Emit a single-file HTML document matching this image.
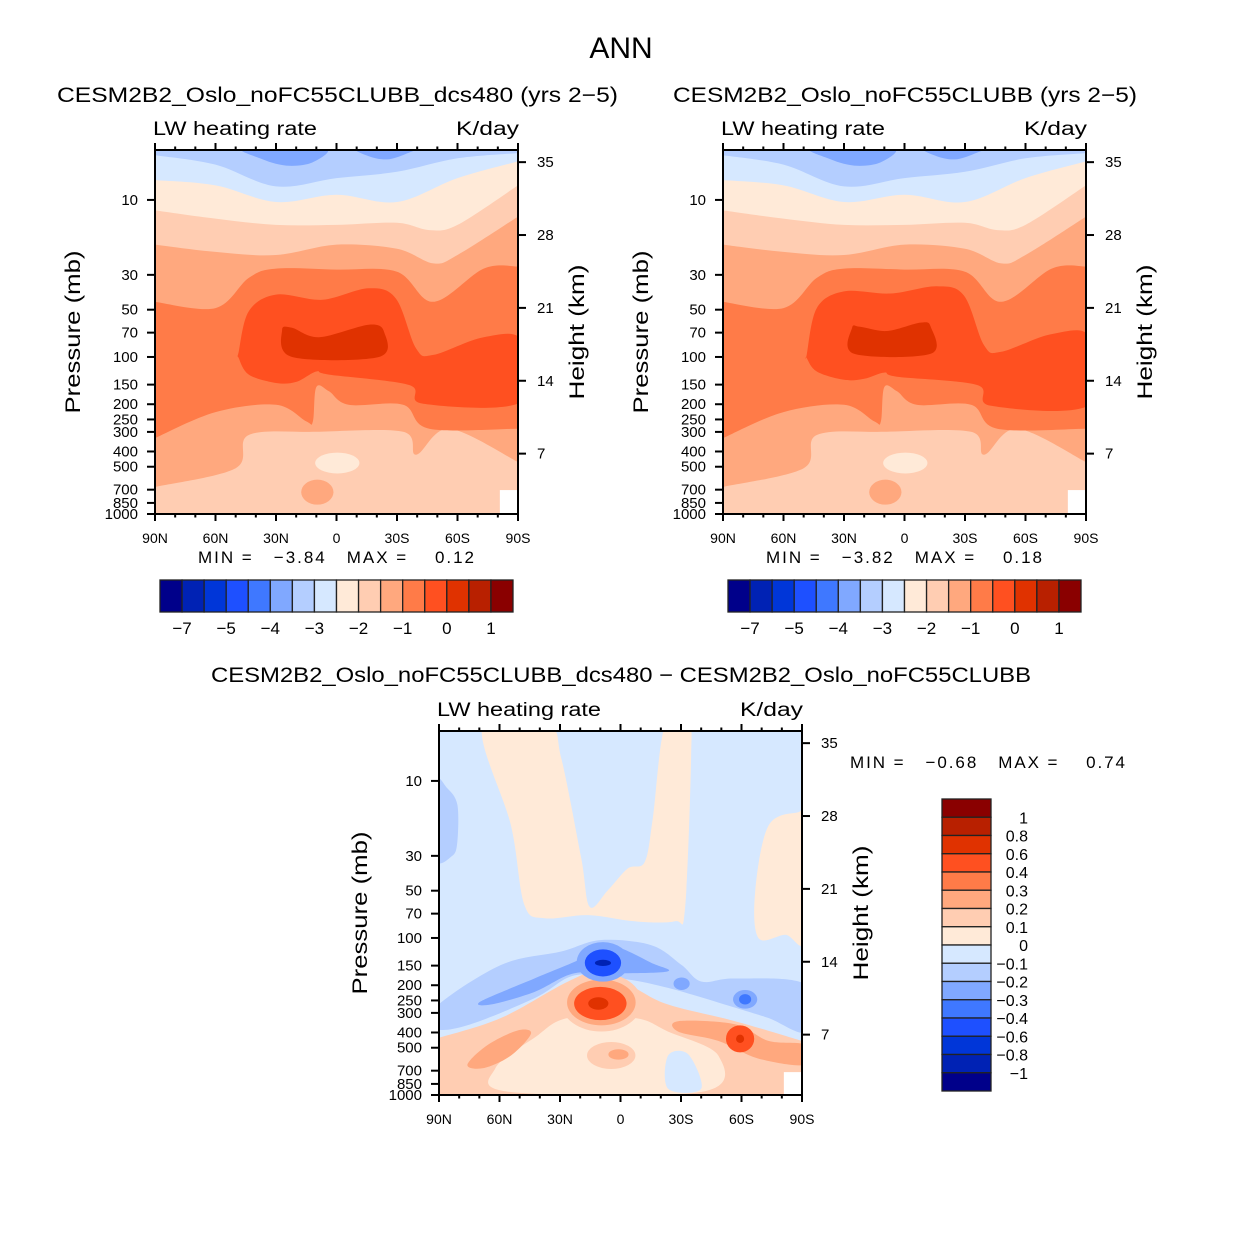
<!DOCTYPE html>
<html><head><meta charset="utf-8">
<style>
html,body{margin:0;padding:0;background:#fff;}
svg{display:block;font-family:"Liberation Sans",sans-serif;}
</style></head>
<body>
<svg id="fig" width="1242" height="1244" viewBox="0 0 1242 1244" xmlns="http://www.w3.org/2000/svg">
<rect width="1242" height="1244" fill="#fff"/>
<text x="621" y="58" font-size="30" text-anchor="middle">ANN</text>
<text x="57" y="102" font-size="21" textLength="561" lengthAdjust="spacingAndGlyphs">CESM2B2_Oslo_noFC55CLUBB_dcs480 (yrs 2−5)</text>
<text x="673" y="102" font-size="21" textLength="464" lengthAdjust="spacingAndGlyphs">CESM2B2_Oslo_noFC55CLUBB (yrs 2−5)</text>
<text x="211" y="682" font-size="21" textLength="820" lengthAdjust="spacingAndGlyphs">CESM2B2_Oslo_noFC55CLUBB_dcs480 − CESM2B2_Oslo_noFC55CLUBB</text>
<text x="198" y="563" font-size="17" xml:space="preserve" textLength="276" lengthAdjust="spacing">MIN =   −3.84   MAX =    0.12</text>
<text x="766" y="563" font-size="17" xml:space="preserve" textLength="276" lengthAdjust="spacing">MIN =   −3.82   MAX =    0.18</text>
<text x="850" y="768" font-size="17" xml:space="preserve" textLength="275" lengthAdjust="spacing">MIN =   −0.68   MAX =    0.74</text>
<g id="layer"></g>
</svg>
<script>
// ---------- colour levels ----------
const palette = ["#00008a","#0022b4","#0036d8","#1e50ff","#3f78ff","#80a8ff","#b4ceff","#d6e8ff","#ffead8","#ffcdb2","#ffa87e","#ff7b48","#ff5020","#e03200","#b82000","#8a0000"];
const cbLabelsTop = ["−7","−5","−4","−3","−2","−1","0","1"];
const cbLabelIdxTop = [1,3,5,7,9,11,13,15];
const cbLabelsDiff = ["1","0.8","0.6","0.4","0.3","0.2","0.1","0","−0.1","−0.2","−0.3","−0.4","−0.6","−0.8","−1"];

// ---------- axes data ----------
const latTicks = [90,60,30,0,-30,-60,-90];
const latLabels = ["90N","60N","30N","0","30S","60S","90S"];
const presTicks = [10,30,50,70,100,150,200,250,300,400,500,700,850,1000];
const kmTicks = [7,14,21,28,35];

// ---------- mean-state contour boundaries [lat, log-p height km] ----------
const bSalmonLow = [[90,2.6],[50,4.4],[43.5,7.6],[10,7.9],[-33,7.9],[-39.5,5.7],[-56,8.2],[-90,5.0]];
const bOrangeLow = [[90,7.3],[60,9.8],[30,10.5],[15,8.9],[11.7,8.9],[10,12.2],[3.7,11.8],[-6,10.5],[-33,10.5],[-46,8.2],[-90,8.2]];
const bSalmonUp = [[90,20.4],[60,19.8],[43.5,22.7],[30,23.6],[0,23.5],[-30,23.3],[-48,20.4],[-73,23.6],[-90,23.8]];
const bPeachUp = [[90,25.9],[60,25.2],[30,24.9],[0,25.9],[-30,25.5],[-48,24.1],[-60,24.9],[-90,28.6]];
const bCream = [[90,29.2],[60,28.4],[30,27.8],[0,27.8],[-30,28.0],[-46,27.3],[-60,27.8],[-90,31.6]];
const bVLBlue = [[90,32.1],[60,31.6],[30,30.0],[0,30.7],[-30,30.0],[-60,32.3],[-90,33.9]];
const bLBlue = [[90,34.5],[60,33.6],[30,31.5],[0,32.3],[-30,32.9],[-60,34.2],[-90,34.7]];
const blobBlueA = [[46,35.2],[38,34.2],[25,33.5],[12,33.8],[6,35.2]];
const blobBlueB = [[-10,35.2],[-16,34.4],[-25,34.1],[-34,34.6],[-38,35.2]];
const coreRed = [[48.5,15.6],[43.5,19.5],[30,21.1],[7,20.6],[-16,21.7],[-29.5,20.7],[-39.5,15.9],[-48,15.3],[-73,17.0],[-92,16.7],[-92,10.8],[-43,10.6],[-36,12.4],[3.7,13.4],[10,13.7],[20,12.7],[30,12.6],[43.5,13.4],[48.5,15.0]];
const coreDark = [[27,17.7],[22,15.1],[-21,15.1],[-23.6,17.5],[-16,18.2],[8.7,17.0],[22,17.9]];
const blobCream = [-0.4,4.9,11,1.0];
const blobSalmon = [9.5,2.1,8,1.2];
const coreRed2 = [[48.5,15.3],[43.5,19.8],[30,21.4],[7,21.2],[-16,21.9],[-29.5,21.0],[-39.5,16.2],[-48,15.6],[-73,17.3],[-92,17.0],[-92,10.5],[-43,10.4],[-36,12.4],[3.7,13.2],[10,13.6],[20,13.0],[30,12.9],[43.5,13.7],[48.5,15.0]];
const coreDark2 = [[26,17.9],[25,15.4],[-13,15.4],[-13,18.0],[-8,18.4],[8.7,17.6],[22,18.0]];

// ---------- difference field shapes ----------
const dTongueA = [[68.4,35.5],[36,35.5],[29.4,32.4],[19.5,22.8],[15.3,18.1],[6.2,19.7],[-3.7,21.8],[-12,22.4],[-16,26.6],[-22,35.5],[-33.6,35.5],[-35,32.4],[-32,17.9],[-27,16.7],[-7,16.7],[16,17.3],[37.7,17.0],[47.7,18.3],[54.3,25.9]];
const dTongueB = [[-66.8,19.6],[-73.4,25.9],[-88.3,27.2],[-92,27],[-92,15.1],[-81.7,15.4],[-68.4,15.1]];
const dBlueLeft = [[92,30.1],[85.9,29.5],[80.9,27.9],[80.9,24.4],[83.4,23.0],[92,22.8]];
const dBand = [[92,8.4],[59.3,12.5],[29.4,13.8],[9.5,14.9],[-15.3,14.4],[-30.3,12.5],[-40.2,10.9],[-56.8,11.2],[-92,10.6],[-92,6.1],[-73.4,7.4],[-56.8,8.4],[-23.6,10.3],[-0.4,11.2],[22.8,11.5],[42.7,9.3],[75.9,6.7],[92,6.4]];
const dBandMid = [[69.3,9.0],[42.7,11.2],[19.5,13.1],[9.5,14.4],[-0.4,14.1],[-15.3,12.7],[-23.6,11.9],[-0.4,11.7],[22.8,11.7],[42.7,9.9],[64.3,8.7]];
const dPeachTop = [[90,5.5],[59.3,7.4],[26.1,10.9],[9.5,11.9],[-7,10.3],[-23.6,8.7],[-56.8,7.1],[-90,5.2]];
const dCream = [[62,2.6],[42.7,5.5],[26.1,7.4],[-7,7.4],[-23.6,6.1],[-48.5,3.8],[-40.2,0.3],[55,0.3]];
const dBlobs = [ // lat, km, rxLat, ryKm, colour index
  [9.5,8.9,20,2.8,9],[9.5,8.9,17,2.2,10],[10,8.8,13,1.6,12],[11,8.8,5,0.6,13],
  [8.7,12.8,13,1.9,5],[8.7,12.7,9,1.3,3],[8.7,12.7,4,0.3,1],
  [-30.3,10.7,4,0.6,5],[-61.8,9.2,6,0.9,5],[-61.8,9.2,3,0.5,4],
  [4.6,3.8,12,1.3,9],[1,3.9,5,0.5,10],
  [-59.3,5.4,7,1.3,12],[-59.3,5.4,2,0.4,13]
];
const dSalmonRight = [[-28.6,7.1],[-56.8,6.8],[-73.4,5.2],[-92,4.8],[-92,2.9],[-68.4,3.5],[-48.5,5.2],[-28.6,6.1]];
const dSalmonLeft = [[75.9,2.9],[66,4.8],[51,6.2],[44.4,5.9],[54.3,3.8],[67.6,2.6]];
const dBluePatch = [[-23.6,3.8],[-33.6,3.9],[-40,0.6],[-23.6,0.6]];

// ---------- helpers ----------
const NS = "http://www.w3.org/2000/svg";
const root = document.getElementById('layer');
function el(tag, attrs, parent){ const e=document.createElementNS(NS,tag); for(const k in attrs) e.setAttribute(k,attrs[k]); (parent||root).appendChild(e); return e; }
function makeAxes(ox, oy){
  const W=363, H=364;
  return { ox, oy, W, H,
    x: lat => ox + (90-lat)/180*W,
    y: km => oy + H - km*10.4,
    yp: p => oy + H - 68.2*Math.log(1000/p),
    yk: km => oy + H + 12.5 - km*10.41 };
}
function smoothOpen(pts){
  let d='';
  for(let i=0;i<pts.length-1;i++){
    const p0=pts[i-1]||pts[i], p1=pts[i], p2=pts[i+1], p3=pts[i+2]||pts[i+1];
    const c1=[p1[0]+(p2[0]-p0[0])/6, p1[1]+(p2[1]-p0[1])/6];
    const c2=[p2[0]-(p3[0]-p1[0])/6, p2[1]-(p3[1]-p1[1])/6];
    d+=` C${c1[0].toFixed(1)},${c1[1].toFixed(1)} ${c2[0].toFixed(1)},${c2[1].toFixed(1)} ${p2[0].toFixed(1)},${p2[1].toFixed(1)}`;
  }
  return d;
}
function smoothClosed(pts){
  const n=pts.length; let d=`M${pts[0][0].toFixed(1)},${pts[0][1].toFixed(1)}`;
  for(let i=0;i<n;i++){
    const p0=pts[(i-1+n)%n], p1=pts[i], p2=pts[(i+1)%n], p3=pts[(i+2)%n];
    const c1=[p1[0]+(p2[0]-p0[0])/6, p1[1]+(p2[1]-p0[1])/6];
    const c2=[p2[0]-(p3[0]-p1[0])/6, p2[1]-(p3[1]-p1[1])/6];
    d+=` C${c1[0].toFixed(1)},${c1[1].toFixed(1)} ${c2[0].toFixed(1)},${c2[1].toFixed(1)} ${p2[0].toFixed(1)},${p2[1].toFixed(1)}`;
  }
  return d+'Z';
}
function toPx(ax, arr){ return arr.map(p=>[ax.x(p[0]), ax.y(p[1])]); }
function fillAbove(g, ax, arr, color, name){
  const pts=toPx(ax,arr);
  const d=`M${ax.ox-2},${ax.oy-2} L${ax.ox-2},${pts[0][1]} L${pts[0][0]},${pts[0][1]}`+smoothOpen(pts)+` L${ax.ox+ax.W+2},${pts[pts.length-1][1]} L${ax.ox+ax.W+2},${ax.oy-2}Z`;
  const p=el('path',{d, fill:color},g);
  
  
}
function fillBelow(g, ax, arr, color, name){
  const pts=toPx(ax,arr); const b=ax.oy+ax.H+2;
  const d=`M${ax.ox-2},${b} L${ax.ox-2},${pts[0][1]} L${pts[0][0]},${pts[0][1]}`+smoothOpen(pts)+` L${ax.ox+ax.W+2},${pts[pts.length-1][1]} L${ax.ox+ax.W+2},${b}Z`;
  const p=el('path',{d, fill:color},g);
  
  
}
function blob(g, ax, arr, color, name){
  const p=el('path',{d:smoothClosed(toPx(ax,arr)), fill:color},g);
  
  
}
function ell(g, ax, b, color, name){
  const cx=ax.x(b[0]), cy=ax.y(b[1]);
  const e=el('ellipse',{cx, cy, rx:b[2]/180*ax.W, ry:b[3]*10.4, fill:color},g);
  
  
}
function frame(ax, idx, ytitleX){
  const g=el('g',{});
  
  
  el('rect',{x:ax.ox,y:ax.oy,width:ax.W,height:ax.H,fill:'none',stroke:'#000','stroke-width':2},g);
  for(let lat=90; lat>=-90; lat-=10){
    const x=ax.x(lat), major=(lat%30===0), L=major?7:3.5;
    el('line',{x1:x,y1:ax.oy,x2:x,y2:ax.oy-L,stroke:'#000','stroke-width':2},g);
    el('line',{x1:x,y1:ax.oy+ax.H,x2:x,y2:ax.oy+ax.H+L,stroke:'#000','stroke-width':2},g);
  }
  latTicks.forEach((lat,i)=>{
    const t=el('text',{x:ax.x(lat), y:ax.oy+ax.H+29, 'font-size':14,'text-anchor':'middle'},g);
    t.textContent=latLabels[i];
    
    
  });
  presTicks.forEach(p=>{
    const y=ax.yp(p);
    el('line',{x1:ax.ox,y1:y,x2:ax.ox-8,y2:y,stroke:'#000','stroke-width':2},g);
    const t=el('text',{x:ax.ox-17, y:y+5, 'font-size':15,'text-anchor':'end'},g);
    t.textContent=p;
    
    
  });
  kmTicks.forEach(k=>{
    const y=ax.yk(k);
    el('line',{x1:ax.ox+ax.W,y1:y,x2:ax.ox+ax.W+8,y2:y,stroke:'#000','stroke-width':2},g);
    const t=el('text',{x:ax.ox+ax.W+19, y:y+5, 'font-size':15},g);
    t.textContent=k;
    
    
  });
  const cy=ax.oy+ax.H/2;
  const yt=el('text',{x:0,y:0,'font-size':21,'text-anchor':'middle',textLength:163,lengthAdjust:'spacingAndGlyphs',transform:`translate(${ytitleX},${cy}) rotate(-90)`},g);
  yt.textContent='Pressure (mb)';
  
  
  const rt=el('text',{x:0,y:0,'font-size':21,'text-anchor':'middle',textLength:135,lengthAdjust:'spacingAndGlyphs',transform:`translate(${ax.ox+ax.W+66},${cy}) rotate(-90)`},g);
  rt.textContent='Height (km)';
  
  
  const lw=el('text',{x:ax.ox-2,y:ax.oy-15,'font-size':19,textLength:164,lengthAdjust:'spacingAndGlyphs'},g);
  lw.textContent='LW heating rate';
  
  
  const ku=el('text',{x:ax.ox+ax.W-62,y:ax.oy-15,'font-size':19,textLength:63,lengthAdjust:'spacingAndGlyphs'},g);
  ku.textContent='K/day';
  
  
}
function clipGroup(ax, idx){
  const cp=el('clipPath',{id:'clip'+idx});
  el('rect',{x:ax.ox,y:ax.oy,width:ax.W,height:ax.H},cp);
  const g=el('g',{'clip-path':`url(#clip${idx})`});
  
  
  return g;
}
function meanPanel(ox, oy, idx, core, dark){
  const ax=makeAxes(ox,oy); const g=clipGroup(ax,idx);
  el('rect',{x:ax.ox,y:ax.oy,width:ax.W,height:ax.H,fill:palette[9]},g);
  fillAbove(g,ax,bSalmonLow,palette[10],'band-salmon-low');
  fillAbove(g,ax,bOrangeLow,palette[11],'band-orange');
  fillAbove(g,ax,bSalmonUp,palette[10],'band-salmon-up');
  fillAbove(g,ax,bPeachUp,palette[9],'band-peach');
  fillAbove(g,ax,bCream,palette[8],'band-cream');
  fillAbove(g,ax,bVLBlue,palette[7],'band-very-light-blue');
  fillAbove(g,ax,bLBlue,palette[6],'band-light-blue');
  blob(g,ax,blobBlueA,palette[5],'blue-blob');
  blob(g,ax,blobBlueB,palette[5],'blue-blob');
  blob(g,ax,core,palette[12],'heating-core');
  blob(g,ax,dark,palette[13],'heating-core-max');
  ell(g,ax,blobCream,palette[8],'cream-blob');
  ell(g,ax,blobSalmon,palette[10],'salmon-blob');
  el('rect',{x:ax.x(-81),y:ax.y(2.3),width:ax.x(-90)-ax.x(-81),height:2.3*10.4,fill:'#fff'},g);
  frame(ax, idx, ox-75);
  return ax;
}
function hColorbar(x0, y0, idx){
  const g=el('g',{});  
  const w=353/16;
  palette.forEach((c,i)=>{
    const r=el('rect',{x:x0+i*w,y:y0,width:w,height:32,fill:c,stroke:'#222','stroke-width':1.3},g);
    
    
  });
  cbLabelsTop.forEach((s,i)=>{
    const t=el('text',{x:x0+cbLabelIdxTop[i]*w,y:y0+54,'font-size':17,'text-anchor':'middle'},g);
    t.textContent=s;
    
    
  });
}
meanPanel(155,150,1,coreRed,coreDark);
meanPanel(723,150,2,coreRed2,coreDark2);
hColorbar(160,580,1);
hColorbar(728,580,2);

// ---------- difference panel ----------
(function(){
  const ax=makeAxes(439,731); const g=clipGroup(ax,3);
  el('rect',{x:ax.ox,y:ax.oy,width:ax.W,height:ax.H,fill:palette[7]},g);
  blob(g,ax,dTongueA,palette[8],'positive-tongue');
  blob(g,ax,dTongueB,palette[8],'positive-tongue-south');
  blob(g,ax,dBlueLeft,palette[6],'negative-blob-north');
  fillBelow(g,ax,dPeachTop,palette[9],'lower-positive-region');
  blob(g,ax,dCream,palette[8],'lower-cream-region');
  blob(g,ax,dBand,palette[6],'negative-band');
  blob(g,ax,dBandMid,palette[5],'negative-band-core');
  blob(g,ax,dSalmonRight,palette[10],'positive-band-south');
  blob(g,ax,dSalmonLeft,palette[10],'positive-band-north');
  blob(g,ax,dBluePatch,palette[7],'negative-patch-surface');
  dBlobs.forEach(b=>ell(g,ax,b,palette[b[4]],'difference-blob'));
  el('rect',{x:ax.x(-81),y:ax.y(2.2),width:ax.x(-90)-ax.x(-81),height:2.2*10.4,fill:'#fff'},g);
  frame(ax,3,ax.ox-72);
  const cg=el('g',{});  
  const h=292/16;
  for(let i=0;i<16;i++){
    const r=el('rect',{x:942,y:799+i*h,width:49,height:h,fill:palette[15-i],stroke:'#222','stroke-width':1.3},cg);
    
    
  }
  cbLabelsDiff.forEach((s,i)=>{
    const t=el('text',{x:1028,y:799+(i+1)*h+6,'font-size':16,'text-anchor':'end'},cg);
    t.textContent=s;
    
    
  });
})();
</script>
</body></html>
